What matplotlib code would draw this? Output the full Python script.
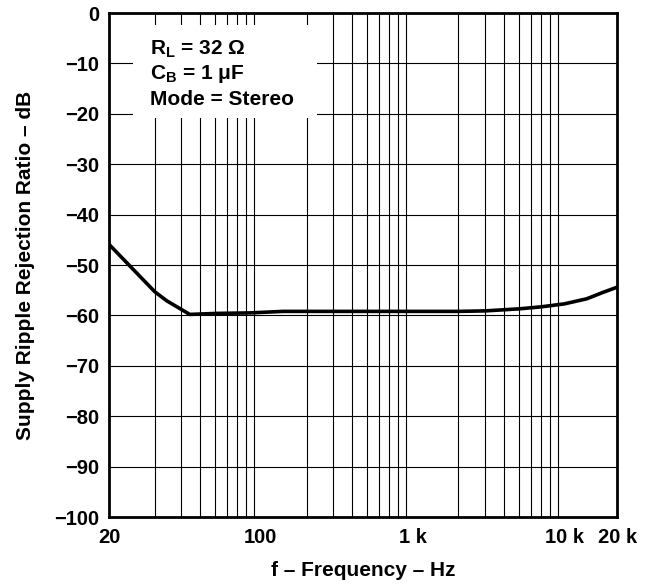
import matplotlib
matplotlib.use('Agg')
import matplotlib.pyplot as plt
from matplotlib.patches import Rectangle

plt.rcParams['font.family'] = ['Liberation Sans', 'DejaVu Sans']
plt.rcParams['font.weight'] = 'bold'
plt.rcParams['mathtext.fontset'] = 'custom'
plt.rcParams['mathtext.rm'] = 'Liberation Sans:bold'
plt.rcParams['mathtext.bf'] = 'Liberation Sans:bold'

# curve (x in the chart's own log scale)
freq = [10, 20, 24, 34, 51, 85, 140, 300, 1000, 2000, 3000, 5000, 7000,
        10000, 14000, 18000, 22200]
ssrr = [-45.9, -55.3, -57.1, -59.8, -59.6, -59.5, -59.2, -59.2, -59.2,
        -59.2, -59.1, -58.7, -58.3, -57.7, -56.7, -55.4, -54.4]

x_ticks = [10, 100, 1000, 10000, 22200]
x_labels = ['20', '100', '1 k', '10 k', '20 k']
x_grid = [20, 30, 40, 50, 60, 70, 80, 90, 100,
          200, 300, 400, 500, 600, 700, 800, 900, 1000,
          2000, 3000, 4000, 5000, 6000, 7000, 8000, 9000, 10000]
y_ticks = [0, -10, -20, -30, -40, -50, -60, -70, -80, -90, -100]
y_labels = ['0', '\u221210', '\u221220', '\u221230', '\u221240', '\u221250',
            '\u221260', '\u221270', '\u221280', '\u221290', '\u2212100']

fig = plt.figure(figsize=(6.49, 5.84), dpi=100)
ax = fig.add_axes([0.168, 0.1147, 0.783, 0.863])

ax.plot(freq, ssrr, color='black', lw=2.6, zorder=5)

ax.set_xscale('log')
ax.set_xlim(10, 22200)
ax.set_ylim(-100, 0)
ax.set_xticks(x_ticks)
ax.set_xticklabels(x_labels)
ax.set_xticks(x_grid, minor=True)
ax.set_yticks(y_ticks)
ax.set_yticklabels(y_labels)
ax.tick_params(which='both', length=0)
ax.tick_params(axis='x', pad=8, labelsize=14.5)
ax.tick_params(axis='y', pad=7, labelsize=14.5)
ax.xaxis.set_tick_params(which='minor', labelbottom=False)

ax.grid(which='minor', axis='x', color='black', lw=0.8)
ax.grid(which='major', axis='y', color='black', lw=0.8)
for s in ax.spines.values():
    s.set_linewidth(2.0)

ax.set_xlabel('f \u2013 Frequency \u2013 Hz', fontsize=15, fontweight='bold')
ax.set_ylabel('Supply Ripple Rejection Ratio \u2013 dB', fontsize=15, fontweight='bold')
ax.xaxis.set_label_coords(0.5, -0.088)
ax.yaxis.set_label_coords(-0.145, 0.5)

# white box behind the conditions text
ax.add_patch(Rectangle((0.047, 0.792), 0.362, 0.184, transform=ax.transAxes,
                       facecolor='white', edgecolor='none', zorder=3))
ax.text(0.081, 0.917, 'R$_{\\mathbf{L}}$ = 32 \u03a9',
        transform=ax.transAxes, fontsize=15, fontweight='bold', zorder=4)
ax.text(0.081, 0.869, 'C$_{\\mathbf{B}}$ = 1 \u03bcF',
        transform=ax.transAxes, fontsize=15, fontweight='bold', zorder=4)
ax.text(0.081, 0.8175, 'Mode = Stereo', transform=ax.transAxes,
        fontsize=15, fontweight='bold', zorder=4)

fig.savefig('out.png', dpi=100)
